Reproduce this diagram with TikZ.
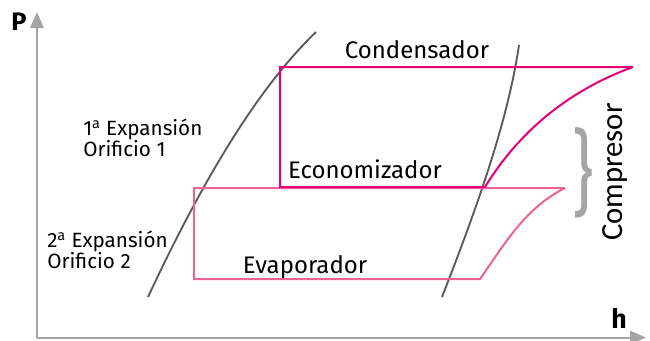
\documentclass[tikz,border=0pt]{standalone}
\usepackage{fontspec}
\setmainfont{Fira Sans}
\newfontfamily\compfont{Carlito}
\usetikzlibrary{arrows.meta}
\definecolor{alta}{RGB}{230,0,120}
\definecolor{baja}{RGB}{236,100,150}
\definecolor{curva}{RGB}{90,90,90}
\definecolor{eje}{RGB}{165,165,165}
\tikzset{
  etiqueta/.style={font=\fontsize{18}{23}\selectfont, inner sep=0pt},
  orificio/.style={font=\fontsize{15.5}{16}\selectfont, inner sep=0pt, anchor=west, align=left},
  ciclo/.style={line width=1.5pt, line join=miter},
}
\begin{document}
\begin{tikzpicture}[x=0.75pt, y=-0.75pt, >={Triangle[length=12pt,width=10pt]}]
  \useasboundingbox (0,0) rectangle (650,340);
  \coordinate (O) at (37,337.5);
  \coordinate (Ptop) at (37,12);
  \coordinate (hend) at (646,337.5);
  \draw[eje, line width=1.5pt, ->] (O) -- (Ptop);
  \draw[eje, line width=1.5pt, ->] (O) -- (hend);
  \node[font=\fontsize{19}{19}\selectfont\bfseries] (P) at (19,22) {P};
  \node[font=\fontsize{20}{20}\selectfont\bfseries] (h) at (619,318) {h};
  \draw[curva, line width=1.4pt] (148,297) .. controls (185,218) and (245,100) .. (316,32);
  \draw[curva, line width=1.4pt] (442,297) .. controls (478,205) and (508,120) .. (519,45);
  \coordinate (A) at (280,67);
  \coordinate (B) at (633,67);
  \coordinate (C) at (280,187);
  \coordinate (D) at (485,187);
  \coordinate (E) at (194,188);
  \coordinate (F) at (565,188);
  \coordinate (G) at (194,279);
  \coordinate (H) at (480,279);
  \draw[baja, ciclo] (F) -- (E) -- (G) -- (H) -- (498,253) .. controls (516,227) and (535,203) .. (F);
  \draw[alta, ciclo] (B) -- (A) -- (C) -- (D) .. controls (520,130) and (570,90) .. (B);
  \node[eje, inner sep=0pt] (llave) at (583.5,172.5) {\resizebox*{16pt}{68pt}{\}}};
  \node[etiqueta] (cond) at (417,50) {Condensador};
  \node[etiqueta] (econ) at (365,169) {Economizador};
  \node[etiqueta] (evap) at (305,267) {Evaporador};
  \node[orificio] (exp1) at (83,138) {1\textsuperscript{a} Expansión\\Orificio 1};
  \node[orificio] (exp2) at (47,250) {2\textsuperscript{a} Expansión\\Orificio 2};
  \node[etiqueta, font=\compfont\fontsize{23}{23}\selectfont, rotate=90] (comp) at (615,172) {Compresor};
\end{tikzpicture}
\end{document}
